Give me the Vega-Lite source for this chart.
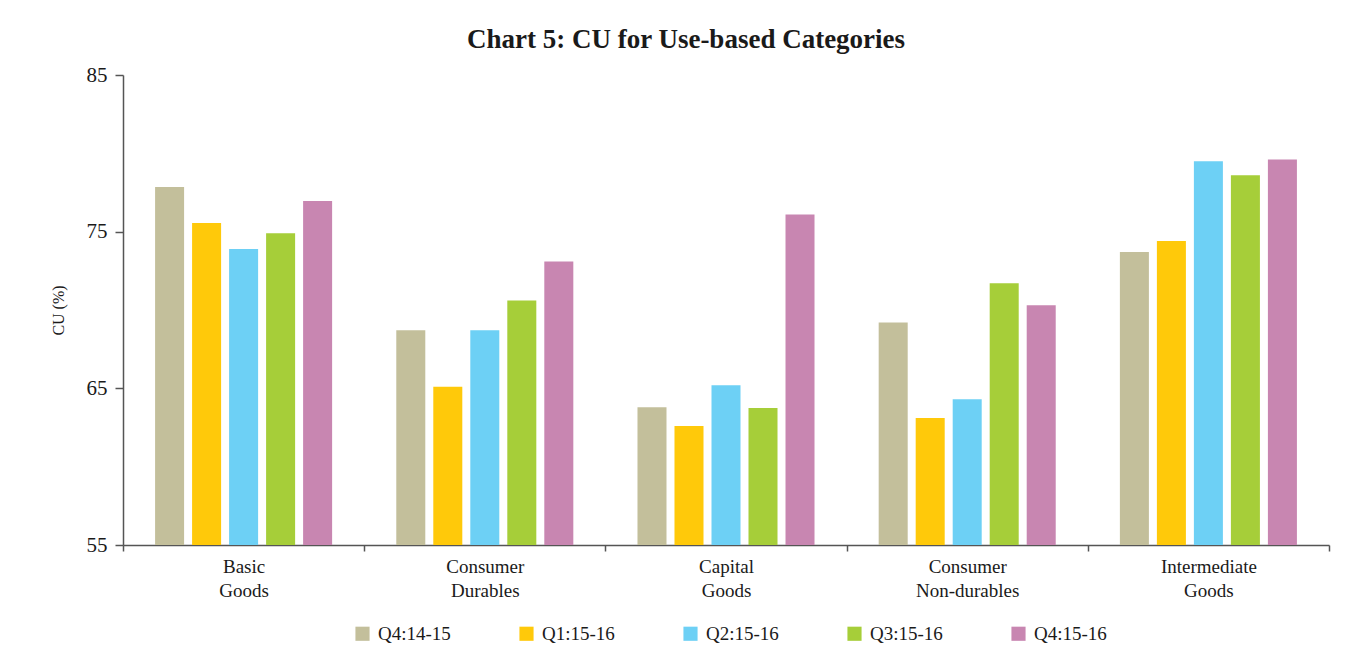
{
  "$schema": "https://vega.github.io/schema/vega-lite/v6.json",
  "autosize": "none",
  "width": 1206,
  "height": 470,
  "padding": {"left": 123, "top": 75, "right": 22, "bottom": 112},
  "background": "white",
  "title": {
    "text": "Chart 5: CU for Use-based Categories",
    "font": "Liberation Serif",
    "fontSize": 27,
    "fontWeight": "bold",
    "color": "#1a1a1a",
    "anchor": "middle",
    "dx": -40,
    "offset": 10
  },
  "data": {
    "values": [
      {"category": "Basic Goods", "quarter": "Q4:14-15", "cu": 77.85},
      {"category": "Basic Goods", "quarter": "Q1:15-16", "cu": 75.55},
      {"category": "Basic Goods", "quarter": "Q2:15-16", "cu": 73.9},
      {"category": "Basic Goods", "quarter": "Q3:15-16", "cu": 74.9},
      {"category": "Basic Goods", "quarter": "Q4:15-16", "cu": 76.95},
      {"category": "Consumer Durables", "quarter": "Q4:14-15", "cu": 68.7},
      {"category": "Consumer Durables", "quarter": "Q1:15-16", "cu": 65.1},
      {"category": "Consumer Durables", "quarter": "Q2:15-16", "cu": 68.7},
      {"category": "Consumer Durables", "quarter": "Q3:15-16", "cu": 70.6},
      {"category": "Consumer Durables", "quarter": "Q4:15-16", "cu": 73.1},
      {"category": "Capital Goods", "quarter": "Q4:14-15", "cu": 63.8},
      {"category": "Capital Goods", "quarter": "Q1:15-16", "cu": 62.6},
      {"category": "Capital Goods", "quarter": "Q2:15-16", "cu": 65.2},
      {"category": "Capital Goods", "quarter": "Q3:15-16", "cu": 63.75},
      {"category": "Capital Goods", "quarter": "Q4:15-16", "cu": 76.1},
      {"category": "Consumer Non-durables", "quarter": "Q4:14-15", "cu": 69.2},
      {"category": "Consumer Non-durables", "quarter": "Q1:15-16", "cu": 63.1},
      {"category": "Consumer Non-durables", "quarter": "Q2:15-16", "cu": 64.3},
      {"category": "Consumer Non-durables", "quarter": "Q3:15-16", "cu": 71.7},
      {"category": "Consumer Non-durables", "quarter": "Q4:15-16", "cu": 70.3},
      {"category": "Intermediate Goods", "quarter": "Q4:14-15", "cu": 73.7},
      {"category": "Intermediate Goods", "quarter": "Q1:15-16", "cu": 74.4},
      {"category": "Intermediate Goods", "quarter": "Q2:15-16", "cu": 79.5},
      {"category": "Intermediate Goods", "quarter": "Q3:15-16", "cu": 78.6},
      {"category": "Intermediate Goods", "quarter": "Q4:15-16", "cu": 79.6}
    ]
  },
  "mark": {"type": "bar", "clip": true},
  "encoding": {
    "x": {
      "field": "category",
      "type": "nominal",
      "sort": ["Basic Goods", "Consumer Durables", "Capital Goods", "Consumer Non-durables", "Intermediate Goods"],
      "scale": {"paddingInner": 0, "paddingOuter": 0},
      "axis": {
        "title": null,
        "labelAngle": 0,
        "labelExpr": "split(datum.label, ' ')",
        "labelFont": "Liberation Serif",
        "labelFontSize": 19,
        "labelLineHeight": 24,
        "labelColor": "#1a1a1a",
        "labelPadding": 6,
        "tickBand": "extent",
        "tickSize": 6,
        "tickColor": "#555555",
        "domainColor": "#555555",
        "domainWidth": 1.5,
        "tickWidth": 1.5
      }
    },
    "xOffset": {
      "field": "quarter",
      "type": "nominal",
      "sort": ["Q4:14-15", "Q1:15-16", "Q2:15-16", "Q3:15-16", "Q4:15-16"],
      "scale": {"paddingInner": 0.216, "paddingOuter": 0.867}
    },
    "y": {
      "field": "cu",
      "type": "quantitative",
      "scale": {"domain": [55, 85], "nice": false, "zero": false},
      "axis": {
        "title": "CU (%)",
        "titleFont": "Liberation Serif",
        "titleFontSize": 16,
        "titleFontWeight": "normal",
        "titleColor": "#1a1a1a",
        "titlePadding": 20,
        "values": [55, 65, 75, 85],
        "grid": false,
        "labelFont": "Liberation Serif",
        "labelFontSize": 21,
        "labelColor": "#1a1a1a",
        "labelPadding": 8,
        "tickSize": 8,
        "tickColor": "#555555",
        "domainColor": "#555555",
        "domainWidth": 1.5,
        "tickWidth": 1.5
      }
    },
    "color": {
      "field": "quarter",
      "type": "nominal",
      "sort": ["Q4:14-15", "Q1:15-16", "Q2:15-16", "Q3:15-16", "Q4:15-16"],
      "scale": {
        "domain": ["Q4:14-15", "Q1:15-16", "Q2:15-16", "Q3:15-16", "Q4:15-16"],
        "range": ["#C3BF9B", "#FFC90A", "#6DD0F5", "#A6CE39", "#C886B1"]
      },
      "legend": {
        "title": null,
        "orient": "none",
        "legendX": 230,
        "legendY": 549,
        "direction": "horizontal",
        "symbolType": "square",
        "symbolSize": 200,
        "symbolStrokeWidth": 0,
        "labelFont": "Liberation Serif",
        "labelFontSize": 19,
        "labelColor": "#1a1a1a",
        "labelOffset": 6,
        "columnPadding": 66
      }
    }
  },
  "config": {
    "view": {"stroke": null}
  }
}
